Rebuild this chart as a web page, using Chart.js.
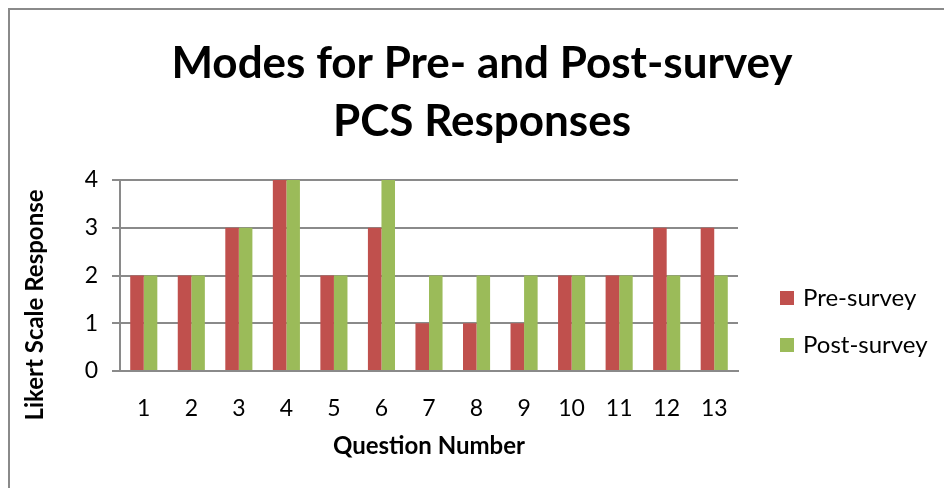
<!DOCTYPE html>
<html>
<head>
<meta charset="utf-8">
<script src="https://cdn.jsdelivr.net/npm/chart.js@4"></script>
<style>
  html, body { margin: 0; padding: 0; background: #fff; }
  #wrap { position: relative; width: 944px; height: 488px; }
  #frame { position: absolute; left: 8px; top: 8px; right: 0; bottom: 0;
           border-left: 2px solid #8a8a8a; border-top: 2px solid #8a8a8a; }
  canvas { position: absolute; left: 0; top: 0; }
</style>
</head>
<body>
<div id="wrap">
  <div id="frame"></div>
  <canvas id="modesChart" width="944" height="488"></canvas>
</div>
<script>
const questions = ['1', '2', '3', '4', '5', '6', '7', '8', '9', '10', '11', '12', '13'];
const preSurvey = [2, 2, 3, 4, 2, 3, 1, 1, 1, 2, 2, 3, 3];
const postSurvey = [2, 2, 3, 4, 2, 4, 2, 2, 2, 2, 2, 2, 2];
const yTicks = [0, 1, 2, 3, 4];
const titleLines = ['Modes for Pre- and Post-survey', 'PCS Responses'];

const FONT = 'Lato, "Open Sans", sans-serif';

// titles, axis titles and legend drawn by hand to sit where Excel put them
const decorations = {
    id: 'decorations',
    afterDraw(chart) {
        const ctx = chart.ctx;
        const area = chart.chartArea;
        ctx.save();
        ctx.fillStyle = '#000';
        ctx.textAlign = 'center';
        ctx.textBaseline = 'middle';

        ctx.font = 'bold 44px ' + FONT;
        ctx.fillText(titleLines[0], 482, 64);
        ctx.fillText(titleLines[1], 482, 122);

        ctx.font = 'bold 24px ' + FONT;
        ctx.fillText('Question Number', (area.left + area.right) / 2, 446);

        ctx.translate(35, 305);
        ctx.rotate(-Math.PI / 2);
        ctx.fillText('Likert Scale Response', 0, 0);
        ctx.restore();

        // legend
        ctx.save();
        ctx.font = '24px ' + FONT;
        ctx.textAlign = 'left';
        ctx.textBaseline = 'middle';
        chart.data.datasets.forEach((ds, i) => {
            const y = 298 + i * 47;
            ctx.fillStyle = ds.backgroundColor;
            ctx.fillRect(780, y - 7, 14, 14);
            ctx.fillStyle = '#000';
            ctx.fillText(ds.label, 803, y);
        });
        ctx.restore();
    }
};

const ctx = document.getElementById('modesChart').getContext('2d');
const modesChart = new Chart(ctx, {
    type: 'bar',
    data: {
        labels: questions,
        datasets: [{
            label: 'Pre-survey',
            data: preSurvey,
            backgroundColor: '#C0504D',
            borderWidth: 0
        }, {
            label: 'Post-survey',
            data: postSurvey,
            backgroundColor: '#9BBB59',
            borderWidth: 0
        }]
    },
    options: {
        responsive: false,
        animation: false,
        layout: {
            padding: { left: 70, right: 206, top: 180, bottom: 0 }
        },
        datasets: {
            bar: { categoryPercentage: 0.57, barPercentage: 1.0 }
        },
        plugins: {
            legend: { display: false },
            title: { display: false },
            tooltip: { enabled: false }
        },
        scales: {
            x: {
                grid: { display: false, drawTicks: false },
                border: { display: true, color: '#8a8a8a', width: 2 },
                ticks: { color: '#000', font: { family: FONT, size: 23 }, padding: 24, maxRotation: 0 },
                afterFit(scale) { scale.height = 117; }
            },
            y: {
                min: 0,
                max: 4,
                afterBuildTicks(scale) { scale.ticks = yTicks.map(v => ({ value: v })); },
                grid: { color: '#8a8a8a', lineWidth: 2, tickLength: 8, drawTicks: true },
                border: { display: true, color: '#8a8a8a', width: 2 },
                ticks: { color: '#000', font: { family: FONT, size: 23 }, padding: 14 },
                afterFit(scale) { scale.width = 50; }
            }
        }
    },
    plugins: [decorations]
});
</script>
</body>
</html>
